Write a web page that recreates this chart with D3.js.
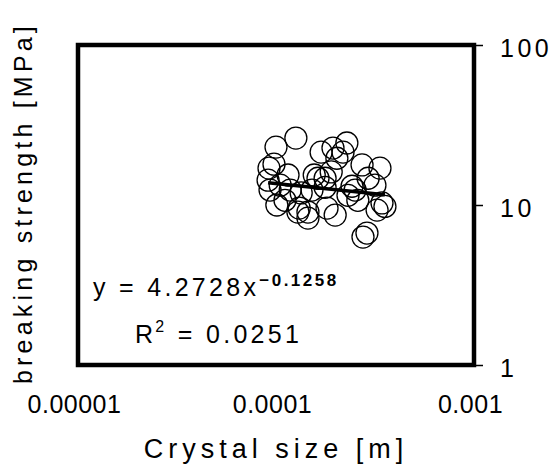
<!DOCTYPE html>
<html><head><meta charset="utf-8">
<script src="https://cdn.jsdelivr.net/npm/d3@7"></script>
<style>
html,body{margin:0;padding:0;background:#fff;}
text{font-family:"Liberation Sans",Arial,sans-serif;fill:#000;}
</style></head>
<body>
<svg id="chart" width="556" height="466"></svg>
<script>
// Crystal size [m]
const crystalSize = [1.26e-4,1.00e-4,9.77e-5,9.12e-5,9.22e-5,9.33e-5,1.01e-4,1.15e-4,1.34e-4,1.45e-4,
  1.45e-4,1.29e-4,1.69e-4,1.90e-4,1.77e-4,2.28e-4,2.18e-4,2.03e-4,1.81e-4,1.99e-4,
  2.31e-4,2.72e-4,3.35e-4,2.92e-4,3.43e-4,3.24e-4,2.75e-4,2.88e-4,1.52e-4,1.18e-4,
  1.11e-4,1.63e-4,1.94e-4,2.42e-4,3.16e-4,2.59e-4,3.55e-4,1.31e-4,1.56e-4,1.77e-4,
  2.51e-4,1.05e-4];
// breaking strength [MPa]
const strength = [26.2,23.0,18.0,14.3,17.0,12.4,10.0,15.4,11.9,9.03,
  8.28,9.03,21.4,16.1,14.7,24.4,21.4,19.6,9.56,8.65,
  11.5,17.8,17.0,14.7,10.3,9.29,6.30,6.68,12.4,12.4,
  10.7,14.7,22.7,13.1,13.3,10.7,9.8,9.56,15.4,12.9,
  12.4,13.3];
const fitCoef = 4.2728, fitExp = -0.1258, rSquared = "0.0251";
const xTicks = [1e-5, 1e-4, 1e-3];
const xTickLabels = ["0.00001", "0.0001", "0.001"];
const yTicks = [1, 10, 100];
const yTickLabels = ["1", "10", "100"];

const svg = d3.select("#chart");
const L = 78, R = 474, T = 45, B = 365;
const x = d3.scaleLog().domain([1e-5, 1e-3]).range([L, R]);
const y = d3.scaleLog().domain([1, 100]).range([B, T]);

// right y-axis
const yAxis = d3.axisRight(y).tickValues(yTicks).tickSize(9).tickPadding(17)
  .tickFormat((d, i) => yTickLabels[i]);
const gy = svg.append("g").attr("transform", `translate(${R},0)`).call(yAxis);
gy.select(".domain").remove();
gy.selectAll(".tick line").attr("stroke", "#000").attr("stroke-width", 1.5);
gy.selectAll(".tick text").attr("font-size", 25).attr("letter-spacing", 3.5)
  .attr("dy", "0.45em").attr("font-family", '"Liberation Sans",Arial,sans-serif');

// bottom x-axis labels (no tick marks)
const xAxis = d3.axisBottom(x).tickValues(xTicks).tickSize(0).tickPadding(0)
  .tickFormat((d, i) => xTickLabels[i]);
const gx = svg.append("g").attr("transform", `translate(0,${B})`).call(xAxis);
gx.select(".domain").remove();
gx.selectAll(".tick text").attr("font-size", 25).attr("letter-spacing", 0.5)
  .attr("y", 48).attr("dy", 0).attr("dx", -4)
  .attr("font-family", '"Liberation Sans",Arial,sans-serif');

// plot frame
svg.append("rect").attr("x", L).attr("y", T).attr("width", R - L).attr("height", B - T)
  .attr("fill", "none").attr("stroke", "#000").attr("stroke-width", 4.5);

// points
const pts = crystalSize.map((c, i) => ({c, s: strength[i]}));
svg.append("g").selectAll("circle").data(pts).join("circle")
  .attr("cx", d => x(d.c)).attr("cy", d => y(d.s)).attr("r", 11)
  .attr("fill", "none").attr("stroke", "#000").attr("stroke-width", 1.3);

// power trendline
const ext = d3.extent(crystalSize);
const fit = ext.map(c => ({c, s: fitCoef * Math.pow(c, fitExp)}));
svg.append("path").datum(fit)
  .attr("d", d3.line().x(d => x(d.c)).y(d => y(d.s)))
  .attr("stroke", "#000").attr("stroke-width", 3.5).attr("fill", "none");

// equation
const eq = svg.append("text").attr("x", 93).attr("y", 296).attr("font-size", 25).attr("letter-spacing", 3.3);
eq.append("tspan").text("y = " + fitCoef.toFixed(4) + "x");
eq.append("tspan").attr("font-size", 17).attr("font-weight", "bold").attr("letter-spacing", 2.5)
  .attr("dy", -10).text(fitExp.toFixed(4).replace("-", "\u2212"));

const r2 = svg.append("text").attr("x", 135).attr("y", 343).attr("font-size", 25).attr("letter-spacing", 3.3);
r2.append("tspan").text("R");
r2.append("tspan").attr("font-size", 16).attr("dy", -11).attr("dx", -1).text("2");
r2.append("tspan").attr("dy", 11).text(" = " + rSquared);

// axis titles
svg.append("text").attr("x", 276).attr("y", 458).attr("text-anchor", "middle")
  .attr("font-size", 27).attr("letter-spacing", 5).text("Crystal size [m]");
svg.append("text").attr("transform", "translate(32,203) rotate(-90)").attr("text-anchor", "middle")
  .attr("font-size", 25).attr("letter-spacing", 4.2).text("breaking strength [MPa]");
</script>
</body></html>
